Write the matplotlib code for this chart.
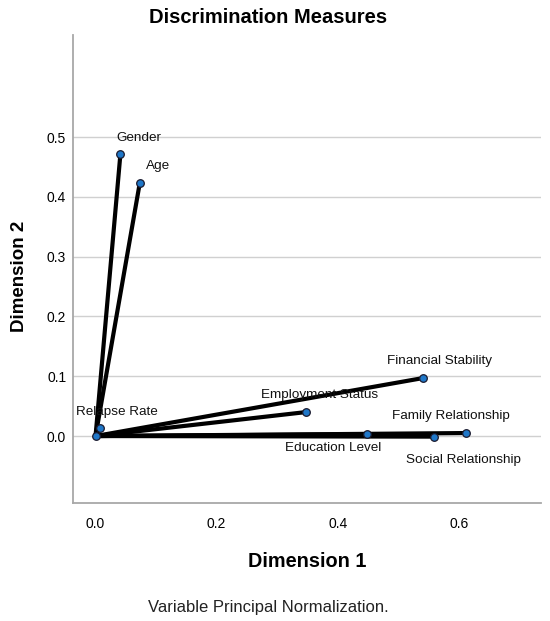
import matplotlib
matplotlib.use("Agg")
import matplotlib.pyplot as plt

plt.rcParams['font.family'] = ['Liberation Sans', 'DejaVu Sans']

# discrimination measures per variable
variables = ["Gender", "Age", "Relapse Rate", "Financial Stability",
             "Employment Status", "Education Level", "Social Relationship",
             "Family Relationship"]
dim1 = [0.041, 0.073, 0.007, 0.541, 0.347, 0.448, 0.559, 0.612]
dim2 = [0.471, 0.423, 0.013, 0.097, 0.040, 0.003, -0.001, 0.005]

# label offsets in points (dx, dy)
offsets = {
    "Gender": (13, 12),
    "Age": (13, 12),
    "Relapse Rate": (12, 12),
    "Financial Stability": (12, 12),
    "Employment Status": (10, 12),
    "Education Level": (-24, -10),
    "Social Relationship": (21, -17),
    "Family Relationship": (-11, 12),
}

fig = plt.figure(figsize=(5.5, 6.21), dpi=100)
ax = fig.add_axes([0.133, 0.19, 0.85, 0.7536])

for x, y in zip(dim1, dim2):
    ax.plot([0, x], [0, y], color="black", lw=3, solid_capstyle="round", zorder=2)
ax.scatter([0] + dim1, [0] + dim2, s=30, color="#1f77c8", edgecolor="#1a1a2e",
           linewidth=0.9, zorder=3)

for name, x, y in zip(variables, dim1, dim2):
    dx, dy = offsets[name]
    ax.annotate(name, (x, y), xytext=(dx, dy), textcoords="offset points",
                ha="center", va="center", fontsize=9.7, color="#111111", zorder=4)

ax.set_xlim(-0.037, 0.735)
ax.set_ylim(-0.112, 0.6706)
ax.set_xticks([0.0, 0.2, 0.4, 0.6])
ax.set_yticks([0.0, 0.1, 0.2, 0.3, 0.4, 0.5])
ax.tick_params(length=0, labelsize=10, pad=10)
ax.tick_params(axis="y", pad=5)
ax.grid(axis="y", color="#d0d0d0", lw=1)
ax.set_axisbelow(True)
for s in ["top", "right"]:
    ax.spines[s].set_visible(False)
for s in ["left", "bottom"]:
    ax.spines[s].set_color("#a8a8a8")
    ax.spines[s].set_linewidth(1.3)

fig.text(0.488, 0.972, "Discrimination Measures", ha="center", va="center",
         fontsize=14.5, fontweight="bold")
ax.set_xlabel("Dimension 1", fontsize=14.3, fontweight="bold")
ax.xaxis.set_label_coords(0.5, -0.104)
ax.set_ylabel("Dimension 2", fontsize=13.5, fontweight="bold")
ax.yaxis.set_label_coords(-0.097, 0.485)
fig.text(0.488, 0.0225, "Variable Principal Normalization.", ha="center",
         va="center", fontsize=12, color="#222222")

fig.savefig("out.png", dpi=100)
